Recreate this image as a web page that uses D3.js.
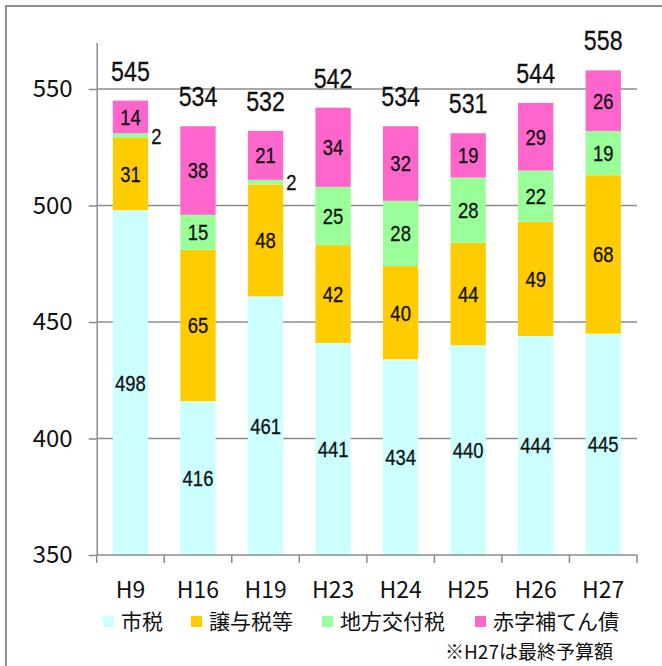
<!DOCTYPE html>
<html>
<head>
<meta charset="utf-8">
<script src="https://cdn.jsdelivr.net/npm/d3@7"></script>
<style>
  html, body { margin: 0; padding: 0; background: #fff; }
  svg { display: block; }
</style>
</head>
<body>
<svg id="chart" width="662" height="666"></svg>
<script>
// Revenue breakdown by fiscal year (stacked, bottom to top)
const years = ["H9", "H16", "H19", "H23", "H24", "H25", "H26", "H27"];
const seriesNames = ["市税", "譲与税等", "地方交付税", "赤字補てん債"];
const cityTax = [498, 416, 461, 441, 434, 440, 444, 445];
const transferTax = [31, 65, 48, 42, 40, 44, 49, 68];
const localAllocTax = [2, 15, 2, 25, 28, 28, 22, 19];
const deficitBonds = [14, 38, 21, 34, 32, 19, 29, 26];
const totals = [545, 534, 532, 542, 534, 531, 544, 558];
const yTicks = [350, 400, 450, 500, 550];
const seriesColors = ["#CCFFFF", "#FFCC00", "#99FF99", "#FF66CC"];
const footnote = "※H27は最終予算額";

const seriesValues = [cityTax, transferTax, localAllocTax, deficitBonds];
const rows = years.map((y, i) => {
  const r = { year: y };
  seriesNames.forEach((s, k) => { r[s] = seriesValues[k][i]; });
  return r;
});

const svg = d3.select("#chart");
const jpFont = "'Noto Sans CJK JP', 'Noto Sans', sans-serif";
const numFont = "'Liberation Sans', Arial, sans-serif";

// outer frame
svg.append("rect")
  .attr("x", 6).attr("y", 6).attr("width", 720).attr("height", 720)
  .attr("fill", "none").attr("stroke", "#8f8f8f").attr("stroke-width", 2);

const plot = { left: 96.7, right: 637, top: 42.4, bottom: 555 };

const x = d3.scaleBand().domain(years)
  .range([plot.left, plot.right])
  .paddingInner(0.477).paddingOuter(0.2385);
const y = d3.scaleLinear().domain([350, 570]).range([plot.bottom, plot.top]);

// gridlines
svg.append("g").selectAll("line").data(yTicks.slice(1)).join("line")
  .attr("x1", plot.left).attr("x2", plot.right)
  .attr("y1", d => y(d)).attr("y2", d => y(d))
  .attr("stroke", "#8c8c8c").attr("stroke-width", 1.5);

// stacked bars
const stack = d3.stack().keys(seriesNames);
const layers = stack(rows);
const base = y.domain()[0];

const layerG = svg.append("g").selectAll("g").data(layers).join("g")
  .attr("fill", (d, i) => seriesColors[i]);

layerG.selectAll("rect").data(d => d).join("rect")
  .attr("x", d => x(d.data.year))
  .attr("width", x.bandwidth())
  .attr("y", d => y(d[1]))
  .attr("height", d => y(Math.max(d[0], base)) - y(d[1]));

// condensed number label helper
function numLabel(g, px, py, txt, size, squeeze, anchor) {
  g.append("text")
    .attr("transform", `translate(${px},${py}) scale(${squeeze},1)`)
    .attr("text-anchor", anchor)
    .attr("dy", "0.36em")
    .attr("font-family", numFont)
    .attr("font-size", size)
    .attr("fill", "#111")
    .attr("stroke", "#111").attr("stroke-width", 0.3)
    .text(txt);
}

// segment value labels
const segG = svg.append("g");
layers.forEach(layer => {
  layer.forEach(d => {
    const v = d[1] - d[0];
    const cy = (y(Math.max(d[0], base)) + y(d[1])) / 2;
    if (v < 5) {
      numLabel(segG, x(d.data.year) + x.bandwidth() + 3, cy, v, 22, 0.84, "start");
    } else {
      numLabel(segG, x(d.data.year) + x.bandwidth() / 2, cy, v, 22, 0.84, "middle");
    }
  });
});

// totals above bars
const totG = svg.append("g");
years.forEach((yr, i) => {
  numLabel(totG, x(yr) + x.bandwidth() / 2, y(totals[i]) - 30, totals[i], 28, 0.83, "middle");
});

// y axis
const yAxis = svg.append("g")
  .attr("transform", `translate(${plot.left},0)`)
  .call(d3.axisLeft(y).tickValues(yTicks).tickSize(8).tickSizeOuter(0).tickPadding(16));
yAxis.select(".domain").attr("stroke", "#8c8c8c").attr("stroke-width", 1.5);
yAxis.selectAll(".tick line").attr("stroke", "#8c8c8c").attr("stroke-width", 1.5);
yAxis.selectAll("text")
  .attr("font-family", jpFont).attr("font-size", 24).attr("fill", "#111");

// x axis with boundary ticks
const xAxisG = svg.append("g");
xAxisG.append("line")
  .attr("x1", plot.left).attr("x2", plot.right)
  .attr("y1", plot.bottom).attr("y2", plot.bottom)
  .attr("stroke", "#8c8c8c").attr("stroke-width", 1.5);
const boundaries = years.map(d => x(d) - x.step() * x.paddingInner() / 2).concat([plot.right]);
xAxisG.selectAll("line.tk").data(boundaries).join("line")
  .attr("class", "tk")
  .attr("x1", d => d).attr("x2", d => d)
  .attr("y1", plot.bottom).attr("y2", plot.bottom + 8)
  .attr("stroke", "#8c8c8c").attr("stroke-width", 1.5);
xAxisG.selectAll("text").data(years).join("text")
  .attr("x", d => x(d) + x.bandwidth() / 2)
  .attr("y", 598)
  .attr("text-anchor", "middle")
  .attr("font-family", jpFont).attr("font-size", 23).attr("fill", "#111")
  .text(d => d);

// legend
const legendX = [103, 191, 322, 475];
const legend = svg.append("g").selectAll("g").data(seriesNames).join("g")
  .attr("transform", (d, i) => `translate(${legendX[i]},616)`);
legend.append("rect")
  .attr("width", 11).attr("height", 11)
  .attr("fill", (d, i) => seriesColors[i]);
legend.append("text")
  .attr("x", 18).attr("y", 13)
  .attr("font-family", jpFont).attr("font-size", 21).attr("fill", "#111")
  .text(d => d);

// footnote
svg.append("text")
  .attr("x", 445).attr("y", 659)
  .attr("font-family", jpFont).attr("font-size", 19).attr("fill", "#111")
  .text(footnote);
</script>
</body>
</html>
